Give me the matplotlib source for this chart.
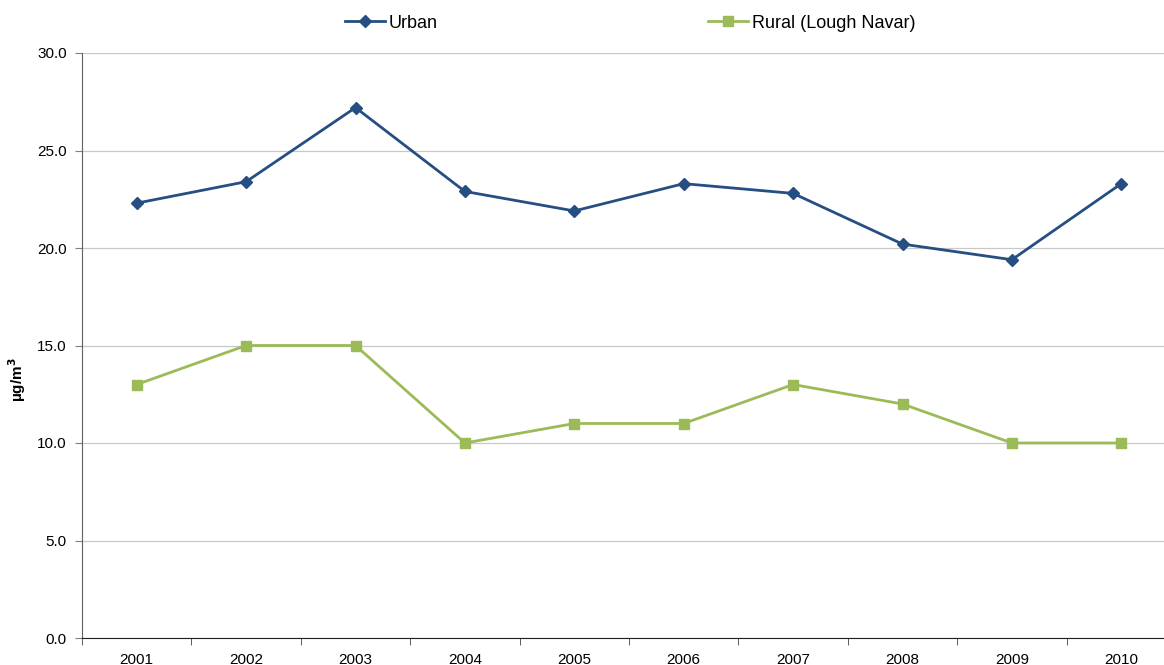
import matplotlib
matplotlib.use("Agg")
import matplotlib.pyplot as plt

years = ["2001", "2002", "2003", "2004", "2005", "2006", "2007", "2008", "2009", "2010"]
urban = [22.3, 23.4, 27.2, 22.9, 21.9, 23.3, 22.8, 20.2, 19.4, 23.3]
rural = [13, 15, 15, 10, 11, 11, 13, 12, 10, 10]
yticks = [0, 5, 10, 15, 20, 25, 30]

plt.rcParams['font.family'] = ['Liberation Sans', 'DejaVu Sans']

W, H = 1164, 665
fig = plt.figure(figsize=(W / 100, H / 100), dpi=100)
left, right, top, bottom = 82, 1176, 53, 638
ax = fig.add_axes([left / W, (H - bottom) / H, (right - left) / W, (bottom - top) / H])

x = list(range(len(years)))
ax.plot(x, urban, color='#254E82', marker='D', markersize=6, linewidth=2, label='Urban', clip_on=False)
ax.plot(x, rural, color='#9BBB59', marker='s', markersize=7.5, linewidth=2, label='Rural (Lough Navar)', clip_on=False)

ax.set_xlim(-0.5, len(years) - 0.5)
ax.set_ylim(0, 30)
ax.set_yticks(yticks)
ax.set_yticklabels([f"{v:.1f}" for v in yticks], fontsize=11)
ax.set_xticks(x)
ax.set_xticklabels(years, fontsize=11)
ax.set_xticks([i + 0.5 for i in range(-1, len(years))], minor=True)
ax.tick_params(axis='x', which='major', length=0, pad=11)
ax.tick_params(axis='x', which='minor', length=5, direction='out', color='#404040')
ax.tick_params(axis='y', length=5, direction='out', color='#808080', pad=6)
ax.grid(axis='y', color='#C8C8C8', linewidth=0.9)
ax.set_axisbelow(True)
for s in ['top', 'right']:
    ax.spines[s].set_visible(False)
ax.spines['left'].set_color('#606060')
ax.spines['bottom'].set_color('#202020')

fig.text(17 / W, 1 - 380 / H, 'µg/m$^\\mathbf{3}$', rotation=90, fontsize=11, fontweight='bold', ha='center', va='center')

fig.legend(loc='center', bbox_to_anchor=(630 / W, 1 - 23 / H), ncol=2, frameon=False,
           fontsize=13, columnspacing=15, handlelength=2.2, handletextpad=0.2)

fig.savefig('out.png', dpi=100)
